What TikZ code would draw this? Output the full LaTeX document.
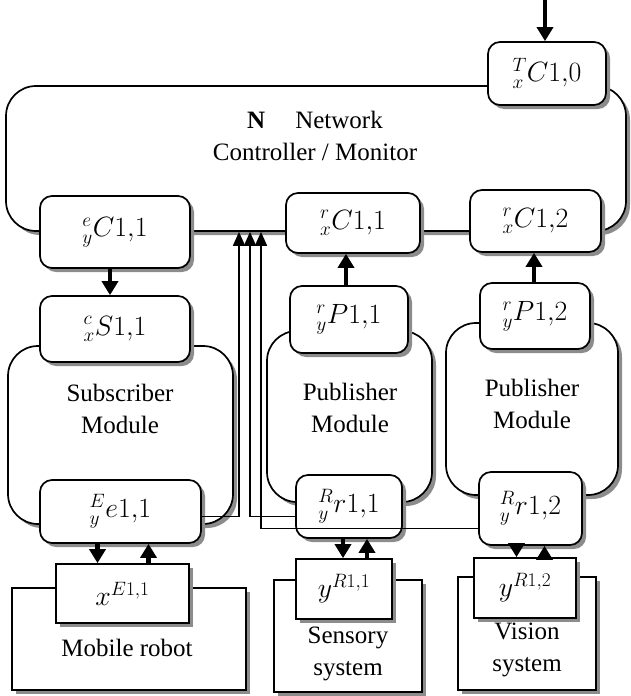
\documentclass[tikz,border=0pt]{standalone}
\usepackage{graphicx}
\usepackage{fontspec}
\setmainfont{Liberation Serif}
\usetikzlibrary{arrows.meta}
\newcommand{\lbl}[1]{\scalebox{1.12}{$#1$}}
\tikzset{
  box/.style={draw, line width=1.7pt, fill=white, inner sep=0pt,
    preaction={draw=none, fill=black!45, transform canvas={xshift=4pt, yshift=-4pt}}},
  port/.style={box, rounded corners=12pt, font=\fontsize{25}{32}\selectfont},
  module/.style={box, rounded corners=30pt},
  plant/.style={box, font=\fontsize{25}{32}\selectfont},
  txt/.style={align=center, inner sep=0pt, font=\fontsize{25}{32}\selectfont},
  bigarrow/.style={line width=4.5pt, -{Triangle[width=16pt,length=14pt]}},
  link/.style={line width=1.7pt, -{Triangle[width=12pt,length=14pt]}}
}
\begin{document}
\begin{tikzpicture}[x=1pt,y=-1pt]
	\useasboundingbox (0,0) rectangle (630,696);
	% network controller
	\node[module, minimum width=620pt, minimum height=145pt] (net) at (316,158.5) {};
	\node[txt] (nettxt) at (315,136) {\textbf{N}\hspace{30pt}Network\\Controller / Monitor};
	\node[port, minimum width=118pt, minimum height=63pt] (tc10) at (547,73.5) {\lbl{{}^{T}_{x}C1{,}0}};
	\node[port, minimum width=150pt, minimum height=72pt] (ec11) at (115,232) {\lbl{{}^{e}_{y}C1{,}1}};
	\node[port, minimum width=134pt, minimum height=60pt] (rc11) at (353,223) {\lbl{{}^{r}_{x}C1{,}1}};
	\node[port, minimum width=131pt, minimum height=62pt] (rc12) at (535.5,221) {\lbl{{}^{r}_{x}C1{,}2}};
	% modules
	\node[module, minimum width=225pt, minimum height=178pt] (subm) at (120.5,435) {};
	\node[module, minimum width=165pt, minimum height=171pt] (pub1) at (349.5,416.5) {};
	\node[module, minimum width=172pt, minimum height=172pt] (pub2) at (532,409) {};
	\node[txt] (subtxt) at (120,409) {Subscriber\\Module};
	\node[txt] (pub1txt) at (350,408) {Publisher\\Module};
	\node[txt] (pub2txt) at (532,404) {Publisher\\Module};
	\node[port, minimum width=150pt, minimum height=66pt] (cs11) at (115,329) {\lbl{{}^{c}_{x}S1{,}1}};
	\node[port, minimum width=118pt, minimum height=67pt] (rp11) at (349,319.5) {\lbl{{}^{r}_{y}P1{,}1}};
	\node[port, minimum width=110pt, minimum height=66pt] (rp12) at (535,316) {\lbl{{}^{r}_{y}P1{,}2}};
	\node[port, minimum width=161pt, minimum height=63pt] (ee11) at (120.5,511.5) {\lbl{{}^{E}_{y}e1{,}1}};
	\node[port, minimum width=106pt, minimum height=63pt] (rr11) at (349,506.5) {\lbl{{}^{R}_{y}r1{,}1}};
	\node[port, minimum width=103pt, minimum height=73pt] (rr12) at (530.5,508.5) {\lbl{{}^{R}_{y}r1{,}2}};
	% plants
	\node[plant, minimum width=234pt, minimum height=102pt] (robot) at (129,639) {};
	\node[plant, minimum width=148pt, minimum height=112pt] (sens) at (348,636) {};
	\node[plant, minimum width=138pt, minimum height=113pt] (vis) at (527,633.5) {};
	\node[txt] (robottxt) at (127,648) {Mobile robot};
	\node[txt] (senstxt) at (348,654) {Sensory\\system};
	\node[txt] (vistxt) at (527,650) {Vision\\system};
	\node[plant, minimum width=133pt, minimum height=59pt] (xe11) at (122.5,593.5) {\lbl{x^{E1,1}}};
	\node[plant, minimum width=96pt, minimum height=60pt] (yr11) at (344,589) {\lbl{y^{R1,1}}};
	\node[plant, minimum width=102pt, minimum height=60pt] (yr12) at (525,588) {\lbl{y^{R1,2}}};
	% arrows
	\coordinate (in) at (545,0);
	\draw[bigarrow] (in) -- (in |- tc10.north);
	\draw[bigarrow] (ec11.south -| 110,0) -- (cs11.north -| 110,0);
	\draw[bigarrow] (rp11.north -| 346,0) -- (rc11.south -| 346,0);
	\draw[bigarrow] (rp12.north -| 534,0) -- (rc12.south -| 534,0);
	\draw[bigarrow] ([xshift=-23pt]ee11.south) -- ([xshift=-23pt]ee11.south |- xe11.north);
	\draw[bigarrow] ([xshift=28pt]ee11.south |- xe11.north) -- ([xshift=28pt]ee11.south);
	\draw[bigarrow] ([xshift=-6pt]rr11.south) -- ([xshift=-6pt]rr11.south |- yr11.north);
	\draw[bigarrow] ([xshift=18pt]rr11.south |- yr11.north) -- ([xshift=18pt]rr11.south);
	\draw[bigarrow] ([xshift=-14pt]rr12.south) -- ([xshift=-14pt]rr12.south |- yr12.north);
	\draw[bigarrow] ([xshift=14pt]rr12.south |- yr12.north) -- ([xshift=14pt]rr12.south);
	% links to the network
	\coordinate (bus1) at (239,0);
	\coordinate (bus2) at (250,0);
	\coordinate (bus3) at (261,0);
	\draw[link] ([yshift=-5pt]ee11.east) -| (bus1 |- net.south);
	\draw[link] ([yshift=-10pt]rr11.west) -| (bus2 |- net.south);
	\draw[link] ([yshift=-20pt]rr12.west) -| (bus3 |- net.south);
\end{tikzpicture}
\end{document}
